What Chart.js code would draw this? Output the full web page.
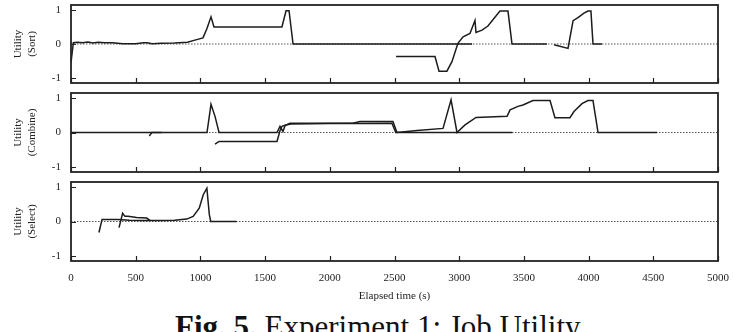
<!DOCTYPE html>
<html>
<head>
<meta charset="utf-8">
<script src="https://cdn.jsdelivr.net/npm/chart.js@4.4.1/dist/chart.umd.min.js"></script>
<style>
  html, body { margin: 0; padding: 0; background: #fff; overflow: hidden; }
  body { width: 733px; height: 332px; position: relative; font-family: "Liberation Serif", serif; }
  .panel { position: absolute; left: 0; width: 733px; }
  #caption { position: absolute; left: 175px; top: 311px; font-size: 31px; line-height: 32px; color: #111; white-space: nowrap; }
</style>
</head>
<body>
<div class="panel" style="top:0"><canvas id="sortChart" width="733" height="88"></canvas></div>
<div class="panel" style="top:88px"><canvas id="combineChart" width="733" height="89"></canvas></div>
<div class="panel" style="top:177px"><canvas id="selectChart" width="733" height="130"></canvas></div>
<div id="caption"><b>Fig. 5.</b> Experiment 1: Job Utility</div>

<script>
// 坐标刻度
const xTicks = [0, 500, 1000, 1500, 2000, 2500, 3000, 3500, 4000, 4500, 5000];
const yTicks = [-1, 0, 1];

// 零线（虚线）
const zeroT = [0, 5000];
const zeroU = [0, 0];

// Sort 面板
const sortJob1T = [0, 18, 50, 90, 130, 170, 210, 260, 320, 400, 500, 560, 590, 625, 700, 800, 900, 943, 1020, 1050, 1082, 1105, 1630, 1662, 1685, 1716, 3100];
const sortJob1U = [-0.55, 0.04, 0.05, 0.04, 0.06, 0.03, 0.05, 0.04, 0.04, 0.01, 0.01, 0.04, 0.04, 0.01, 0.02, 0.03, 0.05, 0.1, 0.18, 0.45, 0.8, 0.5, 0.5, 0.98, 0.98, 0, 0];
const sortJob2T = [2512, 2813, 2844, 2905, 2944, 2990, 3030, 3083, 3122, 3130, 3176, 3222, 3315, 3377, 3408, 3678];
const sortJob2U = [-0.37, -0.37, -0.8, -0.8, -0.52, 0.02, 0.21, 0.31, 0.69, 0.34, 0.41, 0.53, 0.97, 0.97, 0, 0];
const sortJob3T = [3733, 3841, 3880, 3918, 3964, 3995, 4018, 4034, 4103];
const sortJob3U = [-0.02, -0.13, 0.69, 0.78, 0.91, 0.97, 0.97, 0, 0];

// Combine 面板
const combJob1T = [0, 1051, 1082, 1113, 1144, 1592, 1615, 1638, 1654, 1692, 2179, 2233, 2488, 2519, 2674, 2875, 2937, 2983, 3045, 3130, 3370, 3393, 3454, 3493, 3570, 3702, 3740, 3856, 3887, 3949, 3995, 4034, 4073, 4529];
const combJob1U = [0, 0, 0.82, 0.47, 0, 0, 0.18, 0.03, 0.2, 0.27, 0.27, 0.32, 0.32, 0, 0.06, 0.12, 0.95, 0, 0.22, 0.44, 0.47, 0.66, 0.76, 0.8, 0.93, 0.93, 0.43, 0.43, 0.61, 0.84, 0.93, 0.93, 0, 0];
const combJob2T = [1113, 1144, 1592, 1615, 1630, 1660, 1700, 2000, 2480, 2510, 3410];
const combJob2U = [-0.34, -0.26, -0.26, 0.05, 0.18, 0.22, 0.25, 0.26, 0.27, 0, 0];
const combJob3T = [605, 625, 700];
const combJob3U = [-0.1, 0, 0];

// Select 面板
const selJob1T = [216, 240, 300, 363, 450, 540, 700, 800, 894, 944, 991, 1022, 1050, 1069, 1080, 1280];
const selJob1U = [-0.32, 0.06, 0.06, 0.06, 0.04, 0.03, 0.03, 0.04, 0.07, 0.15, 0.39, 0.78, 0.97, 0.2, 0, 0];
const selJob2T = [371, 399, 417, 441, 507, 585, 610];
const selJob2U = [-0.18, 0.24, 0.15, 0.15, 0.12, 0.1, 0.03];

const LINE = '#1c1c1c';
const FONT = { family: '"Liberation Serif", serif', size: 11 };

function toPoints(ts, us) {
    return ts.map((t, i) => ({ x: t, y: us[i] }));
}

function jobDataset(ts, us) {
    return {
        data: toPoints(ts, us),
        borderColor: LINE,
        borderWidth: 1.5,
        pointRadius: 0,
        tension: 0,
        order: 1
    };
}

// 边框和向内刻度
const framePlugin = {
    id: 'frame',
    afterDraw(chart) {
        const { ctx, chartArea: a, scales } = chart;
        ctx.save();
        ctx.strokeStyle = '#222';
        ctx.lineWidth = 1.2;
        ctx.beginPath();
        xTicks.forEach(v => {
            const px = Math.round(scales.x.getPixelForValue(v)) + 0.5;
            ctx.moveTo(px, a.bottom);
            ctx.lineTo(px, a.bottom - 5);
        });
        yTicks.forEach(v => {
            const py = Math.round(scales.y.getPixelForValue(v)) + 0.5;
            ctx.moveTo(a.left, py);
            ctx.lineTo(a.left + 5, py);
        });
        ctx.stroke();
        ctx.lineWidth = 1.8;
        ctx.strokeRect(a.left, a.top, a.width, a.height);
        ctx.restore();
    }
};

function makePanel(id, title, jobs, showX) {
    const datasets = jobs.map(j => jobDataset(j[0], j[1]));
    datasets.push({
        data: toPoints(zeroT, zeroU),
        borderColor: '#555',
        borderWidth: 1,
        borderDash: [1.5, 1.5],
        pointRadius: 0,
        order: 10
    });

    return new Chart(document.getElementById(id), {
        type: 'line',
        data: { datasets },
        options: {
            responsive: false,
            animation: false,
            layout: { padding: { left: 0, right: 15, top: 5, bottom: 0 } },
            plugins: { legend: { display: false }, tooltip: { enabled: false } },
            scales: {
                x: {
                    type: 'linear',
                    min: 0,
                    max: 5000,
                    afterBuildTicks: s => { s.ticks = xTicks.map(v => ({ value: v })); },
                    afterFit: s => {
                        s.height = showX ? 46 : 5;
                        s.paddingLeft = 0;
                        s.paddingRight = 0;
                    },
                    grid: { display: false, tickLength: 8 },
                    border: { display: false },
                    ticks: {
                        display: showX,
                        color: '#222',
                        font: FONT,
                        padding: 3,
                        maxRotation: 0,
                        callback: v => String(v)
                    },
                    title: {
                        display: showX,
                        text: 'Elapsed time (s)',
                        color: '#222',
                        font: FONT,
                        padding: { top: 0, bottom: 4 }
                    }
                },
                y: {
                    min: -1.15,
                    max: 1.15,
                    afterBuildTicks: s => { s.ticks = yTicks.map(v => ({ value: v })); },
                    afterFit: s => {
                        s.width = 71;
                        s.paddingTop = 0;
                        s.paddingBottom = 0;
                    },
                    grid: { display: false, tickLength: 10 },
                    border: { display: false },
                    ticks: { color: '#222', font: FONT, padding: 0, callback: v => String(v) },
                    title: {
                        display: true,
                        text: ['Utility', title],
                        color: '#222',
                        font: FONT,
                        padding: { top: 12, bottom: 0 }
                    }
                }
            }
        },
        plugins: [framePlugin]
    });
}

makePanel('sortChart', '(Sort)', [[sortJob1T, sortJob1U], [sortJob2T, sortJob2U], [sortJob3T, sortJob3U]], false);
makePanel('combineChart', '(Combine)', [[combJob1T, combJob1U], [combJob2T, combJob2U], [combJob3T, combJob3U]], false);
makePanel('selectChart', '(Select)', [[selJob1T, selJob1U], [selJob2T, selJob2U]], true);
</script>
</body>
</html>
